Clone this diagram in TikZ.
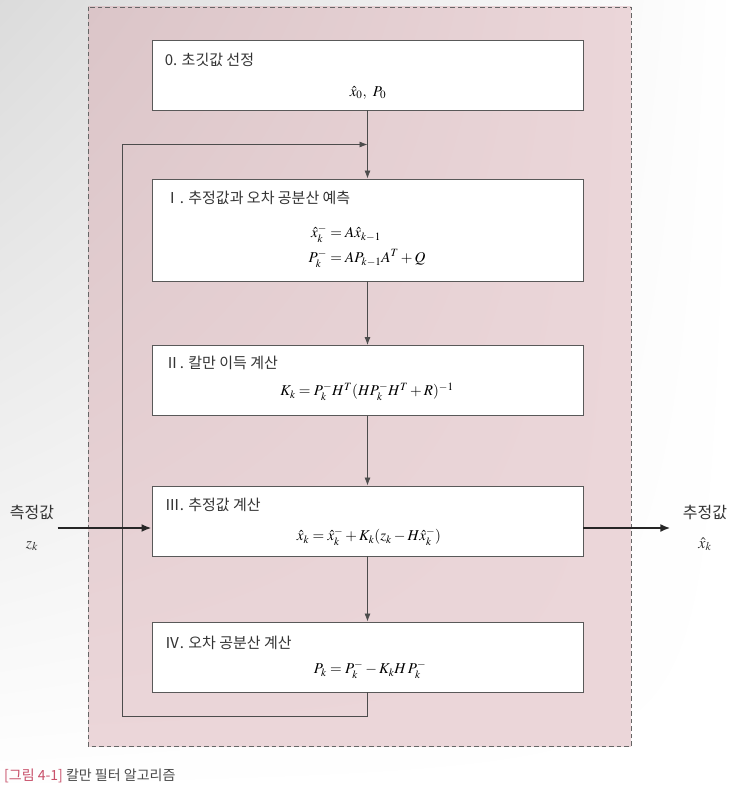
\documentclass[tikz,border=0pt]{standalone}
\usepackage{amsmath}
\usepackage{mathptmx}
\usepackage{fontspec}
\newfontfamily\kr{Noto Sans CJK KR}
\usetikzlibrary{positioning, calc, arrows.meta, shadings}
\definecolor{panel}{HTML}{EBD6D9}
\definecolor{paneldark}{HTML}{DBC5C8}
\definecolor{capred}{HTML}{C8506A}
\definecolor{capgray}{HTML}{4A4A4A}
\tikzset{
  stepbox/.style={draw=black!65, line width=0.9pt, fill=white, minimum width=431, inner sep=0},
  boxtitle/.style={anchor=west, inner sep=0, text=black!80, font=\kr\fontsize{15}{18}\selectfont},
  eq/.style={inner sep=0, font=\fontsize{15}{22}\selectfont},
  flow/.style={draw=black!70, line width=0.8pt, -{Latex[length=8pt,width=6pt]}},
  io/.style={draw=black!85, line width=2pt, -{Latex[length=10pt,width=8pt]}},
  side/.style={align=center, text=black!80, font=\kr\fontsize{16}{30}\selectfont}
}

\begin{document}
\begin{tikzpicture}[x=1pt, y=-1pt]
  \useasboundingbox (0,0) rectangle (736,794);
  \shade[upper left=black!14, upper right=white, lower left=white, lower right=white] (0,0) rectangle (736,794);
  \shadedraw[upper left=paneldark, upper right=panel, lower left=panel, lower right=panel,
    draw=black!60, line width=0.8pt, dash pattern=on 4.5pt off 3pt] (88,7) rectangle (631,746);

  % steps
  \node[stepbox, minimum height=70] (b0) at (367.5,75) {};
  \node[stepbox, minimum height=102] (b1) at (367.5,230) {};
  \node[stepbox, minimum height=70] (b2) at (367.5,380.5) {};
  \node[stepbox, minimum height=70] (b3) at (367.5,521) {};
  \node[stepbox, minimum height=70] (b4) at (367.5,657) {};

  \node[boxtitle] (t0) at ($(b0.north west)+(13,20)$) {0. 초깃값 선정};
  \node[boxtitle] (t1) at ($(b1.north west)+(13,19)$) {Ⅰ. 추정값과 오차 공분산 예측};
  \node[boxtitle] (t2) at ($(b2.north west)+(13,18)$) {Ⅱ. 칼만 이득 계산};
  \node[boxtitle] (t3) at ($(b3.north west)+(13,19)$) {Ⅲ. 추정값 계산};
  \node[boxtitle] (t4) at ($(b4.north west)+(13,21)$) {Ⅳ. 오차 공분산 계산};

  \node[eq] (e0) at (368,93) {$\hat{x}_0,\ P_0$};
  \node[eq] (e1) at (367,246) {$\begin{aligned}\hat{x}_k^- &= A\hat{x}_{k-1}\\ P_k^- &= AP_{k-1}A^T + Q\end{aligned}$};
  \node[eq] (e2) at (367,392) {$K_k = P_k^- H^T(HP_k^- H^T + R)^{-1}$};
  \node[eq] (e3) at (369,537) {$\hat{x}_k = \hat{x}_k^- + K_k(z_k - H\hat{x}_k^-)$};
  \node[eq] (e4) at (370,670) {$P_k = P_k^- - K_k H\,P_k^-$};

  % flow
  \coordinate (join) at ($(b0.south)!0.5!(b1.north)$);
  \coordinate (loopL) at (122,716);
  \draw[flow] (b0.south) -- (b1.north);
  \draw[flow] (b1.south) -- (b2.north);
  \draw[flow] (b2.south) -- (b3.north);
  \draw[flow] (b3.south) -- (b4.north);
  \draw[flow] (b4.south) |- (loopL) |- (join);

  % measurement in, estimate out
  \node[side] (zin) at (32,528) {측정값\\$z_k$};
  \node[side] (xout) at (705,528) {추정값\\$\hat{x}_k$};
  \draw[io] (zin.east) -- (zin.east -| b3.west);
  \draw[io, shorten >=9pt] (b3.east |- xout.west) -- (xout.west);

  \node[anchor=west, inner sep=0, font=\kr\fontsize{14}{16}\selectfont] (cap) at (4,776)
    {\textcolor{capred}{[그림 4-1]} \textcolor{capgray}{칼만 필터 알고리즘}};
\end{tikzpicture}
\end{document}
